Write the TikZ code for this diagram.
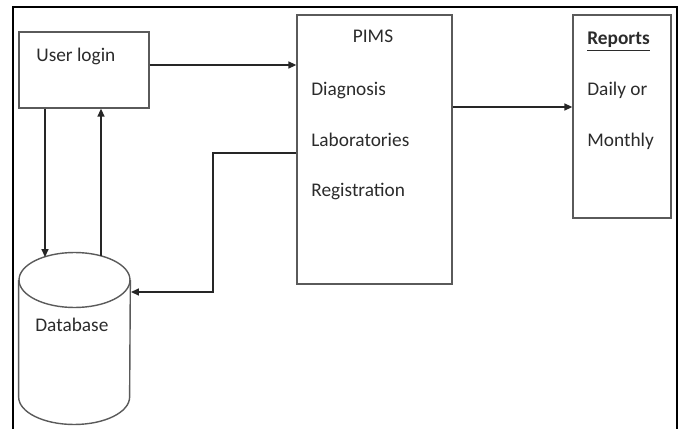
\documentclass[tikz,border=0pt]{standalone}
\usepackage{fontspec}
\setmainfont{Carlito}
\definecolor{pmLine}{HTML}{5A5A5A}
\definecolor{pmText}{HTML}{2B2B2B}
\usetikzlibrary{positioning,arrows.meta}

\begin{document}
\begin{tikzpicture}[x=0.02cm, y=-0.02cm,
  box/.style={draw=pmLine, line width=0.8pt, inner sep=0pt},
  txt/.style={font=\fontsize{11}{13}\selectfont, text=pmText, inner sep=0pt, anchor=base west},
  arr/.style={-{Triangle[length=4.5pt,width=4pt]}, line width=0.8pt, color=black!85}
]
  \useasboundingbox (0,0) rectangle (686,429);
  % Outer frame (open at the bottom)
  \draw[line width=1.1pt] (13,429) -- (13,7) -- (677,7) -- (677,429);
  % Boxes
  \node[box, minimum width=130*0.02cm, minimum height=76*0.02cm] (login) at (84,70) {};
  \node[box, minimum width=155*0.02cm, minimum height=269*0.02cm] (pims) at (374.5,149.5) {};
  \node[box, minimum width=98*0.02cm, minimum height=203*0.02cm] (rep) at (622,116.5) {};
  % Database cylinder
  \node[inner sep=0pt, minimum width=111*0.02cm, minimum height=172*0.02cm] (db) at (74.5,338) {};
  \draw[box] (db.north west |- 0,280) -- (db.west |- 0,397)
    arc[start angle=180, end angle=360, x radius=1.11cm, y radius=0.55cm] -- (db.east |- 0,280);
  \draw[box] (74.5,280) ellipse [x radius=1.11cm, y radius=0.55cm];
  % Labels
  \node[txt] (logintxt) at (36,62) {User login};
  \node[txt, anchor=base] (pimstxt) at (373,43) {PIMS};
  \node[txt] (diag) at (311,95) {Diagnosis};
  \node[txt] (lab) at (311,146) {Laboratories};
  \node[txt] (reg) at (311,196) {Registration};
  \node[txt, font=\fontsize{11}{13}\selectfont\bfseries] (reptxt) at (587,45) {\underline{Reports}};
  \node[txt] (daily) at (587,95) {Daily or};
  \node[txt] (month) at (587,146) {Monthly};
  \node[txt] (dbtxt) at (35,331) {Database};
  % Connector points
  \coordinate (dbin) at (45,257);
  \coordinate (dbout) at (101,256);
  \coordinate (bend) at (213,153);
  \coordinate (dbside) at (131,292);
  % Connectors
  \draw[arr] ([yshift=5*0.02cm]login.east) -- ([yshift=5*0.02cm]login.east -| pims.west);
  \draw[arr] ([yshift=9.5*0.02cm]pims.east |- rep.west) -- ([yshift=9.5*0.02cm]rep.west);
  \draw[arr] (login.south -| dbin) -- (dbin);
  \draw[arr] (dbout) -- (login.south -| dbout);
  \draw[arr] (pims.west |- bend) -- (bend) |- (dbside);
\end{tikzpicture}
\end{document}
